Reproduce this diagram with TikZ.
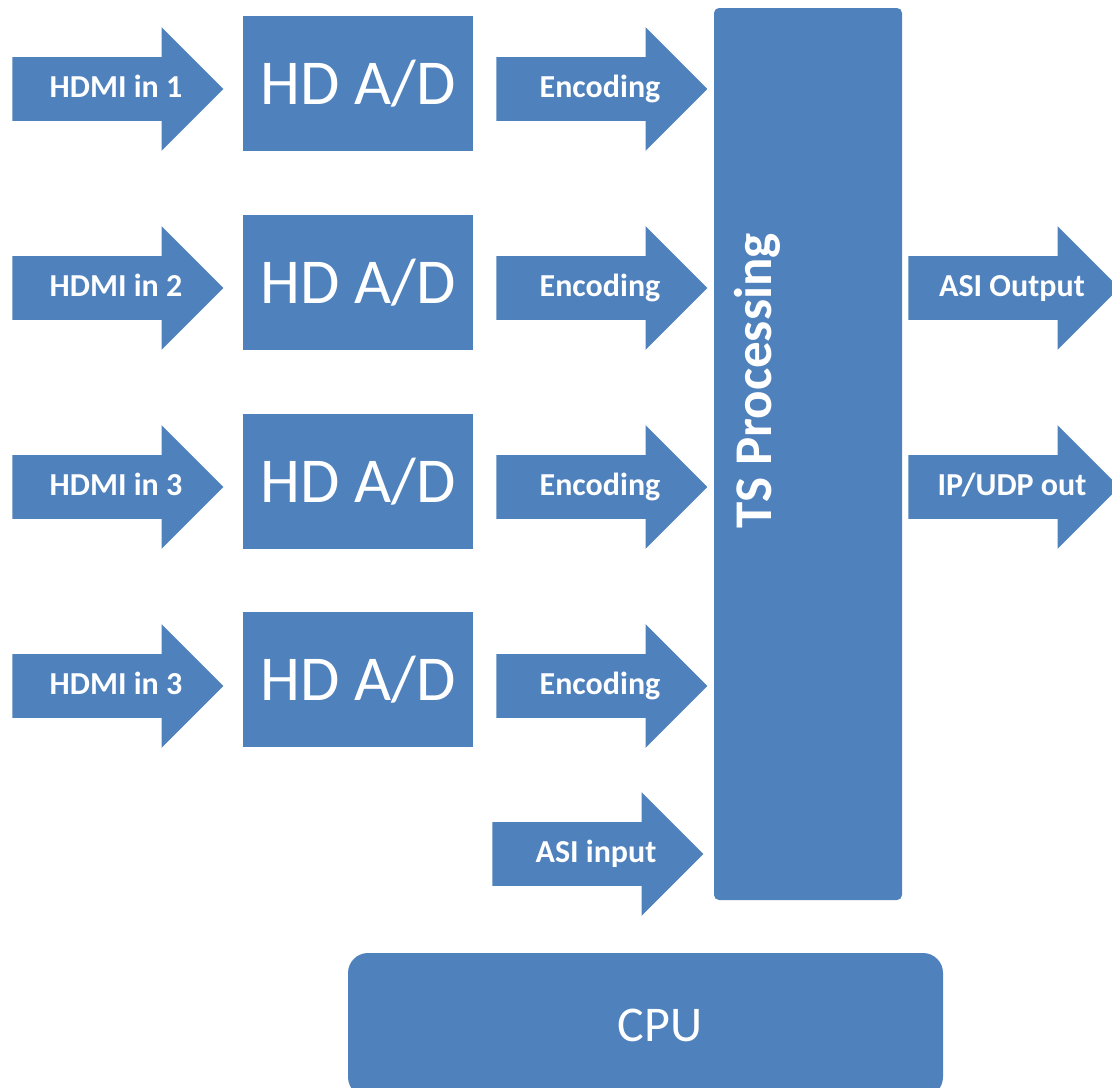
\documentclass[tikz,border=0pt]{standalone}
\usepackage{fontspec}
\setmainfont{Carlito}
\usetikzlibrary{positioning,calc,shapes.arrows}
\definecolor{cBlock}{HTML}{4F81BD}

\begin{document}
\begin{tikzpicture}[x=0.5pt,y=-0.5pt,
    blockarrow/.style={single arrow,fill=cBlock,
      text height=12pt,text depth=4pt,inner ysep=7.75pt,inner xsep=0pt,
      single arrow tip angle=90,single arrow head extend=15pt,minimum height=105.5pt},
    armtext/.style={text=white,font=\fontsize{16}{19}\selectfont\bfseries,
      text height=12pt,text depth=4pt,inner sep=0pt},
    adbox/.style={fill=cBlock,text=white,minimum width=115pt,minimum height=67.5pt,
      font=\fontsize{32}{38}\selectfont},
    tsbox/.style={fill=cBlock,rounded corners=2.5pt,minimum width=94pt,minimum height=446pt},
    cpubox/.style={fill=cBlock,rounded corners=10pt,minimum width=297.5pt,minimum height=72pt}]
  \useasboundingbox (0,0) rectangle (1112,1087);

  % inputs
  \node[blockarrow,anchor=tail] (hdmiA) at (12,89) {};
  \node[blockarrow,anchor=tail] (hdmiB) at (12,288) {};
  \node[blockarrow,anchor=tail] (hdmiC) at (12,487) {};
  \node[blockarrow,anchor=tail] (hdmiD) at (12,686) {};
  \node[armtext] (hdmiAtext) at ($(hdmiA.tail)!0.5!(hdmiA.tip)+(-2,0)$) {HDMI in 1};
  \node[armtext] (hdmiBtext) at ($(hdmiB.tail)!0.5!(hdmiB.tip)+(-2,0)$) {HDMI in 2};
  \node[armtext] (hdmiCtext) at ($(hdmiC.tail)!0.5!(hdmiC.tip)+(-2,0)$) {HDMI in 3};
  \node[armtext] (hdmiDtext) at ($(hdmiD.tail)!0.5!(hdmiD.tip)+(-2,0)$) {HDMI in 3};

  % converters
  \node[adbox] (adA) at (358,83.5) {HD A/D};
  \node[adbox] (adB) at (358,282.5) {HD A/D};
  \node[adbox] (adC) at (358,481.5) {HD A/D};
  \node[adbox] (adD) at (358,679.5) {HD A/D};

  % encoders
  \node[blockarrow,anchor=tail] (encA) at (496,89) {};
  \node[blockarrow,anchor=tail] (encB) at (496,288) {};
  \node[blockarrow,anchor=tail] (encC) at (496,487) {};
  \node[blockarrow,anchor=tail] (encD) at (496,686) {};
  \node[blockarrow,anchor=tail] (asiIn) at (492,854) {};
  \node[armtext] (encAtext) at ($(encA.tail)!0.5!(encA.tip)+(-2,0)$) {Encoding};
  \node[armtext] (encBtext) at ($(encB.tail)!0.5!(encB.tip)+(-2,0)$) {Encoding};
  \node[armtext] (encCtext) at ($(encC.tail)!0.5!(encC.tip)+(-2,0)$) {Encoding};
  \node[armtext] (encDtext) at ($(encD.tail)!0.5!(encD.tip)+(-2,0)$) {Encoding};
  \node[armtext] (asiInText) at ($(asiIn.tail)!0.5!(asiIn.tip)+(-2,0)$) {ASI input};

  % TS processing
  \node[tsbox] (ts) at (808,454) {};
  \node[rotate=90,text=white,font=\fontsize{26.5}{32}\selectfont\bfseries] (tsLabel) at (757,381) {TS Processing};

  % outputs
  \node[blockarrow,anchor=tail] (asiOut) at (908,288) {};
  \node[blockarrow,anchor=tail] (ipOut) at (908,487) {};
  \node[armtext] (asiOutText) at ($(asiOut.tail)!0.5!(asiOut.tip)+(-2,0)$) {ASI Output};
  \node[armtext] (ipOutText) at ($(ipOut.tail)!0.5!(ipOut.tip)+(-2,0)$) {IP/UDP out};

  % cpu
  \node[cpubox] (cpu) at (645.5,1025) {};
  \node[text=white,font=\fontsize{25}{30}\selectfont] (cpuLabel) at (660,1025) {CPU};
\end{tikzpicture}
\end{document}
